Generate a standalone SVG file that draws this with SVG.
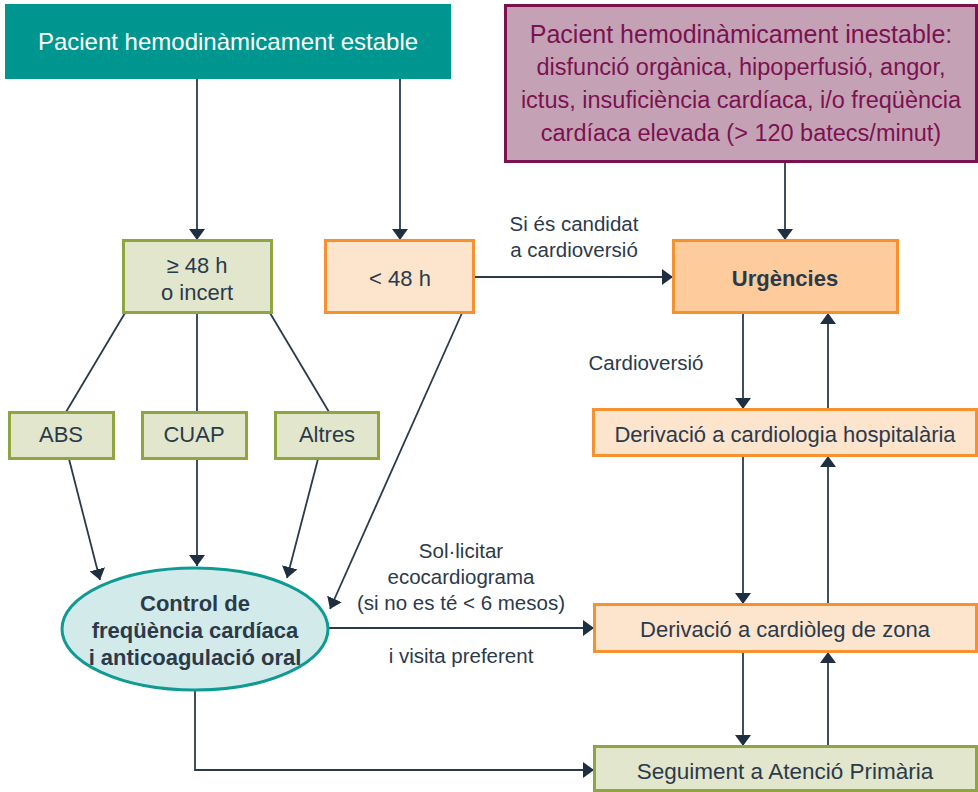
<svg xmlns="http://www.w3.org/2000/svg" width="978" height="792" viewBox="0 0 978 792">
  <defs>
    <marker id="arrow" markerUnits="userSpaceOnUse" markerWidth="12" markerHeight="16" refX="11" refY="8" orient="auto">
      <path d="M0,0 L11,8 L0,16 Z" fill="#1f2f42"/>
    </marker>
    <style>
      text { font-family: "Liberation Sans", Arial, sans-serif; fill: #2b3a4b; text-anchor: middle; }
      .t22 { font-size: 22px; }
      .lbl { font-size: 20.5px; }
      .b { font-weight: bold; }
      .plum { fill: #7b1250; font-size: 23.5px; }
      .green { fill: #e1e6cc; stroke: #8fa53f; stroke-width: 3; }
      .peach { fill: #fde4cd; stroke: #f5912f; stroke-width: 3; }
      .urg { fill: #fdcb9c; stroke: #f5912f; stroke-width: 3; }
      .wire { fill: none; stroke: #2b3a4b; stroke-width: 1.8; }
      .wire-a { fill: none; stroke: #2b3a4b; stroke-width: 1.8; marker-end: url(#arrow); }
    </style>
  </defs>
  <rect width="978" height="792" fill="#ffffff"/>

  <!-- connectors -->
  <g id="connectors">
    <line class="wire-a" x1="197" y1="79" x2="197" y2="240"/>
    <line class="wire-a" x1="400" y1="79" x2="400" y2="240"/>
    <line class="wire-a" x1="785" y1="162" x2="785" y2="240"/>
    <line class="wire-a" x1="474" y1="277" x2="673" y2="277"/>
    <line class="wire" x1="125" y1="313" x2="66" y2="412"/>
    <line class="wire" x1="197" y1="313" x2="197" y2="412"/>
    <line class="wire" x1="270" y1="313" x2="329" y2="412"/>
    <line class="wire-a" x1="69" y1="459" x2="100" y2="580"/>
    <line class="wire-a" x1="197" y1="459" x2="197" y2="566"/>
    <line class="wire-a" x1="318" y1="459" x2="287" y2="578"/>
    <line class="wire-a" x1="462" y1="313" x2="330" y2="609"/>
    <line class="wire-a" x1="328" y1="628" x2="594" y2="628"/>
    <polyline class="wire-a" points="195,690 195,770 594,770"/>
    <line class="wire-a" x1="743" y1="313" x2="743" y2="409"/>
    <line class="wire-a" x1="828" y1="409" x2="828" y2="313"/>
    <line class="wire-a" x1="743" y1="456" x2="743" y2="604"/>
    <line class="wire-a" x1="828" y1="604" x2="828" y2="456"/>
    <line class="wire-a" x1="743" y1="652" x2="743" y2="746"/>
    <line class="wire-a" x1="828" y1="746" x2="828" y2="652"/>
  </g>

  <!-- connector labels -->
  <g id="labels" class="lbl">
    <text x="574" y="231">Si és candidat</text>
    <text x="574" y="257">a cardioversió</text>
    <text x="646" y="370">Cardioversió</text>
    <text x="461" y="558">Sol·licitar</text>
    <text x="461" y="584">ecocardiograma</text>
    <text x="461" y="610">(si no es té &lt; 6 mesos)</text>
    <text x="461" y="663">i visita preferent</text>
  </g>

  <g id="estable">
    <rect x="5" y="4" width="446" height="75" fill="#009690"/>
    <text x="228" y="50" style="font-size:24px; fill:#ffffff">Pacient hemodinàmicament estable</text>
  </g>

  <g id="inestable">
    <rect x="505.5" y="5.5" width="471" height="156" fill="#c5a1b6" stroke="#7b1250" stroke-width="3"/>
    <text class="plum" x="741" y="43" style="font-size:25px">Pacient hemodinàmicament inestable:</text>
    <text class="plum" x="741" y="75">disfunció orgànica, hipoperfusió, angor,</text>
    <text class="plum" x="741" y="108">ictus, insuficiència cardíaca, i/o freqüència</text>
    <text class="plum" x="741" y="141">cardíaca elevada (&gt; 120 batecs/minut)</text>
  </g>

  <g id="mes48">
    <rect class="green" x="123.5" y="240.5" width="148" height="72"/>
    <text class="t22" x="197" y="273">≥ 48 h</text>
    <text class="t22" x="197" y="300">o incert</text>
  </g>

  <g id="menys48">
    <rect class="peach" x="325.5" y="240.5" width="148" height="72"/>
    <text class="t22" x="400" y="286">&lt; 48 h</text>
  </g>

  <g id="urgencies">
    <rect class="urg" x="673.5" y="240.5" width="224" height="72"/>
    <text class="t22 b" x="785" y="286">Urgències</text>
  </g>

  <g id="abs">
    <rect class="green" x="9.5" y="412.5" width="104" height="46"/>
    <text class="t22" x="61" y="442">ABS</text>
  </g>

  <g id="cuap">
    <rect class="green" x="142.5" y="412.5" width="104" height="46"/>
    <text class="t22" x="194" y="442">CUAP</text>
  </g>

  <g id="altres">
    <rect class="green" x="275.5" y="412.5" width="103" height="46"/>
    <text class="t22" x="327" y="442">Altres</text>
  </g>

  <g id="hospitalaria">
    <rect class="peach" x="593.5" y="409.5" width="383" height="46"/>
    <text class="t22" x="785" y="442">Derivació a cardiologia hospitalària</text>
  </g>

  <g id="control">
    <ellipse cx="195" cy="629" rx="133" ry="61" fill="#d3eaea" stroke="#0f9a93" stroke-width="3"/>
    <text class="t22 b" x="195" y="611">Control de</text>
    <text class="t22 b" x="195" y="638">freqüència cardíaca</text>
    <text class="t22 b" x="195" y="665">i anticoagulació oral</text>
  </g>

  <g id="zona">
    <rect class="peach" x="594.5" y="604.5" width="382" height="47"/>
    <text class="t22" x="785" y="637">Derivació a cardiòleg de zona</text>
  </g>

  <g id="seguiment">
    <rect class="green" x="594.5" y="746.5" width="382" height="44"/>
    <text class="t22" x="785" y="779" style="font-size:22.5px">Seguiment a Atenció Primària</text>
  </g>
</svg>
